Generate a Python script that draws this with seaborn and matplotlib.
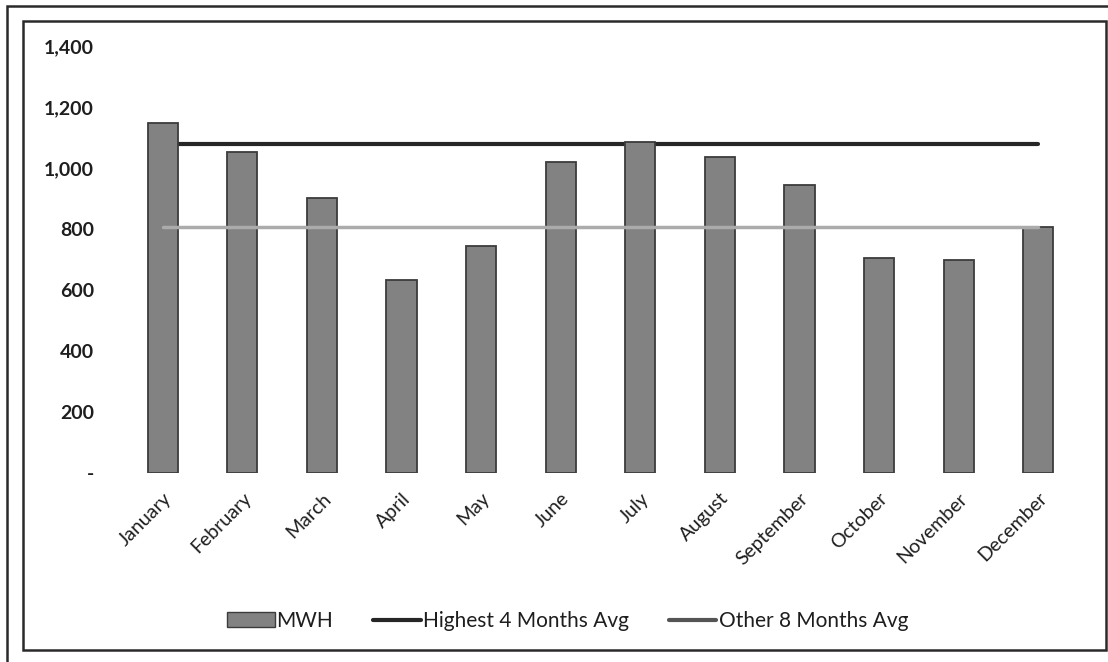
import numpy as np
import pandas as pd
import matplotlib
matplotlib.use("Agg")
import matplotlib.pyplot as plt
from matplotlib.patches import Rectangle, Patch
from matplotlib.lines import Line2D
from matplotlib.ticker import FuncFormatter
import seaborn as sns

months = ["January", "February", "March", "April", "May", "June",
          "July", "August", "September", "October", "November", "December"]
mwh = [1148, 1052, 902, 633, 744, 1020, 1085, 1035, 944, 705, 697, 805]
yticks = [0, 200, 400, 600, 800, 1000, 1200, 1400]

# Average of the four highest months vs. the remaining eight
order = np.argsort(mwh)[::-1]
high_avg = float(np.mean([mwh[i] for i in order[:4]]))
other_avg = float(np.mean([mwh[i] for i in order[4:]]))

df = pd.DataFrame({"month": months, "MWH": mwh,
                   "high": [high_avg] * len(months),
                   "other": [other_avg] * len(months)})

sns.set_theme(style="white")
plt.rcParams["font.family"] = ["Lato", "DejaVu Sans"]

fig = plt.figure(figsize=(11.08, 6.62), dpi=100)
ax = fig.add_axes([0.111, 0.2855, 0.862, 0.645])

bar_color = "#828282"
edge_color = "#3c3c3c"
high_color = "#262626"
other_color = "#ababab"

sns.lineplot(data=df, x="month", y="high", ax=ax, color=high_color,
             linewidth=3, sort=False, zorder=1)
sns.barplot(data=df, x="month", y="MWH", ax=ax, color=bar_color,
            edgecolor=edge_color, linewidth=1.3, width=0.38, saturation=1,
            zorder=2)
sns.lineplot(data=df, x="month", y="other", ax=ax, color=other_color,
             linewidth=2.5, sort=False, zorder=3)

ax.set_ylim(0, 1400)
ax.set_xlim(-0.5, len(months) - 0.5)
ax.set_yticks(yticks)
ax.yaxis.set_major_formatter(FuncFormatter(lambda v, p: "-" if v == 0 else f"{int(v):,}"))
ax.set_xlabel("")
ax.set_ylabel("")
for s in ax.spines.values():
    s.set_visible(False)
ax.tick_params(axis="both", length=0)
ax.tick_params(axis="y", pad=21, labelsize=14, labelcolor="#1e1e1e")
ax.tick_params(axis="x", pad=12, labelsize=14, labelcolor="#1e1e1e")
for lbl in ax.get_yticklabels():
    lbl.set_fontweight("bold")
for lbl in ax.get_xticklabels():
    lbl.set_rotation(45)
    lbl.set_ha("right")
    lbl.set_rotation_mode("anchor")

handles = [Patch(facecolor=bar_color, edgecolor=edge_color, linewidth=1.0),
           Line2D([0], [0], color=high_color, linewidth=3),
           Line2D([0], [0], color="#555555", linewidth=3)]
fig.legend(handles, ["MWH", "Highest 4 Months Avg", "Other 8 Months Avg"],
           loc="center", bbox_to_anchor=(0.512, 0.062), ncol=3, frameon=False,
           fontsize=15, handlelength=2.3, handletextpad=0.1, columnspacing=1.9,
           labelcolor="#1e1e1e")

# Double frame around the chart
W, H = 1108, 662
fig.patches.append(Rectangle((7 / W, 1 - 670 / H), (1115 - 7) / W, (670 - 6) / H,
                             transform=fig.transFigure, fill=False,
                             edgecolor="#2a2a2a", linewidth=1.8))
fig.patches.append(Rectangle((23 / W, 1 - 650 / H), (1106 - 23) / W, (650 - 21) / H,
                             transform=fig.transFigure, fill=False,
                             edgecolor="#2a2a2a", linewidth=1.8))

fig.savefig("out.png", dpi=100, facecolor="white")
